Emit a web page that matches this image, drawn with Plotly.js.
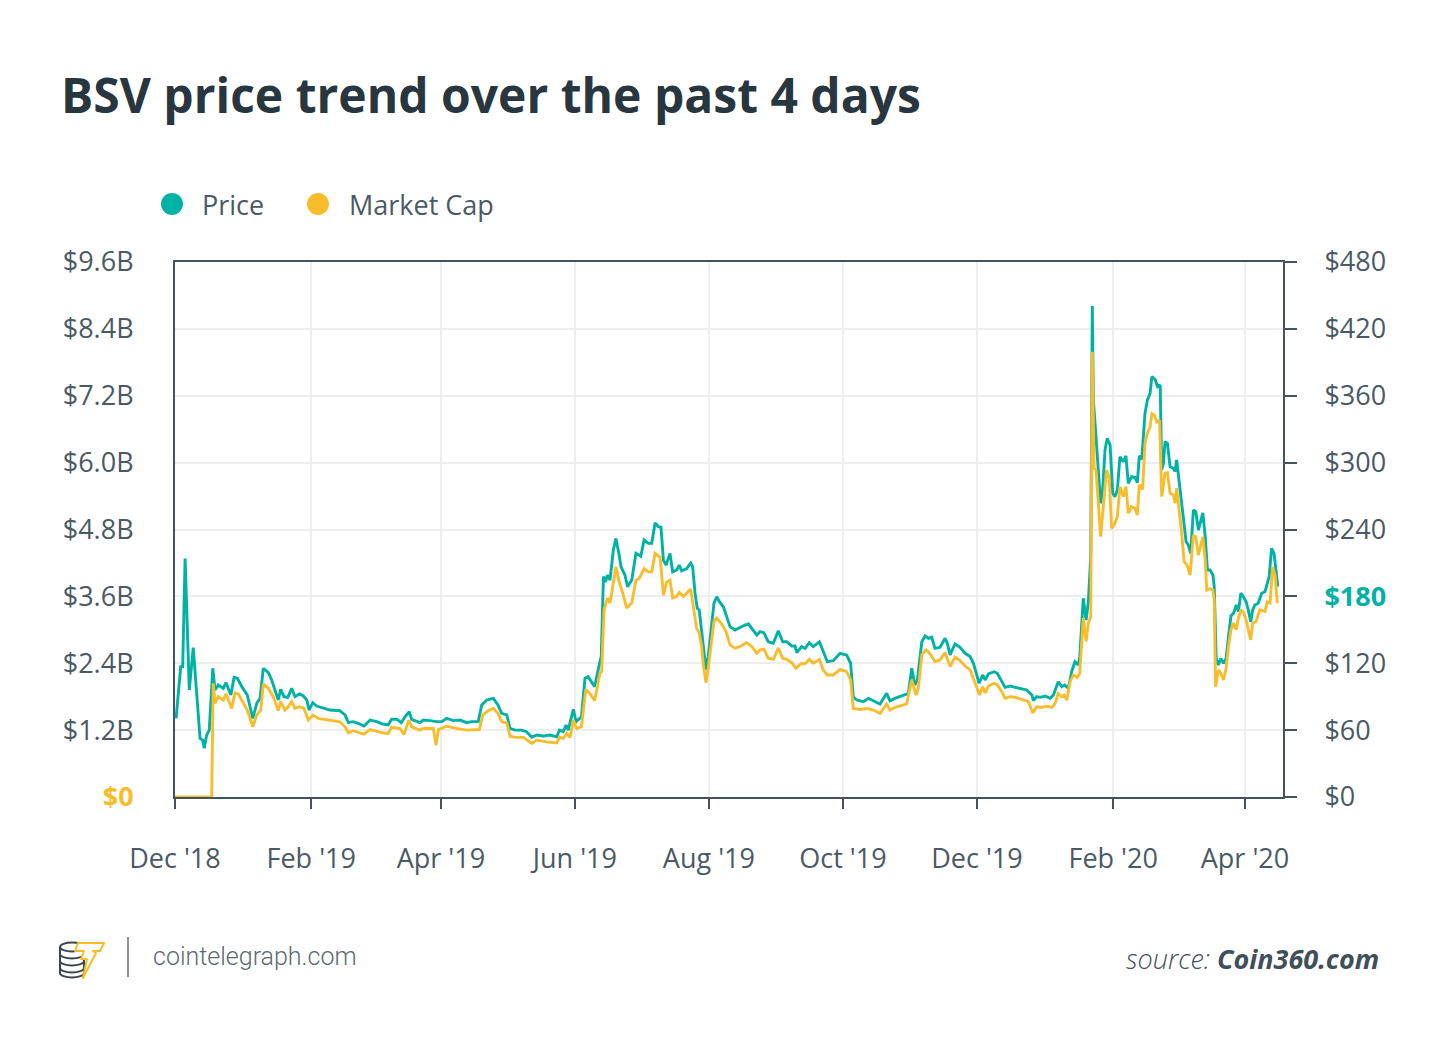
<!DOCTYPE html>
<html>
<head>
<meta charset="utf-8">
<script src="https://cdn.plot.ly/plotly-3.0.1.min.js"></script>
<style>
  html, body { margin:0; padding:0; background:#fff; }
  #wrap { position:relative; width:1450px; height:1038px; }
  #chart { position:absolute; left:0; top:0; width:1450px; height:1038px; }
  #logo { position:absolute; left:56px; top:934px; width:52px; height:48px; }
</style>
</head>
<body>
<div id="wrap">
  <div id="chart"></div>
  <svg id="logo" viewBox="0 0 52 48" xmlns="http://www.w3.org/2000/svg">
    <g fill="#fff" stroke="#3b4650" stroke-width="2">
      <path d="M4 34 v5 a12 4.5 0 0 0 24 0 v-5"/>
      <path d="M4 27 v7 a12 4.5 0 0 0 24 0 v-7"/>
      <path d="M4 20 v7 a12 4.5 0 0 0 24 0 v-7"/>
      <path d="M4 13 v7 a12 4.5 0 0 0 24 0 v-7"/>
      <ellipse cx="16" cy="13" rx="12" ry="4.5"/>
    </g>
    <polygon points="22,9 48,9 44,17 37,17 40,19 27,44 31,25 25,25 28,17 19,17" fill="#fff" stroke="#f5bd2a" stroke-width="2" stroke-linejoin="round"/>
  </svg>
</div>
<script>
// ---- data (x = days after 2018-12-01) ----
const startDate = '2018-12-01';

const priceDay = [0.5,2.6,3.5,4.6,6.5,8.3,11.4,12.6,13.3,14.4,15.6,17.2,18.2,19.7,22,23.2,25.4,26.9,28.4,30.4,
  32.9,35.4,37.2,38.7,40.2,42.5,44,45.5,47,48.1,49.6,51.3,53.1,54.6,56.6,58.4,60,61,62.7,64.5,
  67.5,70.5,75,77.4,78.9,81,83.4,86,88.8,91.8,94.5,97,98.6,101,103,104.7,106.6,107.7,111.5,113,
  116,119,121.4,123.7,126.7,129.7,132.8,135,138,139.6,141.9,144.9,147,148.7,151,152.5,154.8,157.8,160,162.4,
  164.6,167.6,170.7,173.7,175,176.7,178,179,181.3,182.5,185,186.6,188,191,193.4,194,195,196,196.8,198,
  199.5,200.7,202,203,204.8,206,207.9,209.8,211.3,212,213.5,215.4,217,218.5,220,221.2,222.3,223.5,225.3,226.5,
  228.4,229.5,230.6,232.9,234.7,235.6,236.7,237.7,238.6,239.7,240.8,241.7,242.7,244.3,245.3,246.6,247.8,249.6,251,252.6,
  254.9,257,259.4,261,262.5,264.8,266.3,268,270,272.3,274.6,276.6,278.4,280.7,282.2,283,285.2,286.8,288.7,290.5,
  293.3,295,296.9,299.6,302.7,305.7,307.5,308.7,310.3,313.3,315.6,317.8,320.9,323.9,325.4,327.7,330,332.3,333.8,335.3,
  336.8,337.9,339.9,341.4,342.9,344.4,345.9,348.2,350.5,351.5,352.8,355,357.3,359.6,361.9,363.4,364.9,366,367.6,368.7,
  370.2,372.8,374.3,376.3,377.8,380,382.3,385.4,387.7,390,390.7,392.2,393.7,396,398.3,399.8,402,403.6,405,406.6,
  408.1,409.6,411.1,411.8,413.4,414.7,415.7,416.8,417.5,418,419.2,420.3,421.3,422.2,423.3,424.3,425.6,426.8,427.8,428.9,
  430.1,431.6,432.8,433.9,435.4,436.9,438,438.9,440,441.5,442.6,443.8,444.6,446.1,447.2,448.4,449.1,449.9,450.6,451.7,
  452.9,454.4,455.2,455.9,457.1,458.2,459.3,460.2,461.2,462.3,463.5,464.6,465.8,466.9,467.8,468.9,469.9,471.1,472.4,473,
  473.9,474.9,476,477.2,478.4,479.5,480.6,481.8,483,484,485.1,486.3,487.5,488.5,489.6,490.5,491.5,493,494.6,496.1,
  497.1,498,499.1,500.2,501.1,501.9];

const priceUSD = [70.6,117,117,214,96,134,52.6,51,43.7,55.6,60,115.5,96,100.5,97.5,102.6,91.5,107.4,106.5,99,
  91.5,70.6,84,88.5,115.5,111.5,105,96.6,87,96.6,90,89.3,97.5,90,92.4,90.6,87,78,84.6,81.6,
  79.6,78,77.4,73.6,66.7,67.6,66,63.7,69,67.6,65.5,64.6,69.7,69.7,66.7,72,76.5,69.7,66.7,69,
  68.5,67.6,67.6,70.6,68.5,69,66.7,67.6,67.6,82.5,87,88.5,82.5,75,73.6,61.6,60,60,58.6,53.6,
  55.6,54.7,55.6,54,60,58.6,64.6,60,78.7,67.6,72,106.5,108,99,121.4,125.9,197.7,193,199,194.7,
  221.6,232,218.6,206.6,199,188.7,194.7,218.6,217,216,230.6,227.6,227.6,246,242.5,242,212.6,208,218.6,202,
  203.7,208,203,205,210,206.6,182.7,169.3,167.8,149.8,130.4,114,125.9,152.8,173.8,179.7,175.2,170.7,161.8,152.8,
  149.8,152.2,154.3,155.2,151.3,145.3,148.3,147.4,139.3,137.9,149.2,139.3,139.3,135.5,135.5,129.5,134.9,133.4,138.4,134.9,
  139.3,130.4,121.4,122.3,128.9,127.4,120,90,87,85.5,88.5,86.4,83.4,93,86.4,88.5,90,92.1,93,115.5,
  100.5,105,139.3,144.5,142.4,143.5,133.4,134.3,142.4,137.9,127.4,137.3,134.3,128.9,126,120,109.5,102,109.5,105,
  110.4,112.4,111,103.4,98.4,99.6,98.4,96.6,96,91.5,86.4,90,89.4,90.6,88.5,91.5,103.4,99,100.5,97.5,
  112.4,121.4,118.4,125.9,178.3,158.8,175.2,215.6,440.5,356,321.8,299.4,263.5,275.4,311.3,321.8,315.8,272.5,269.4,275.4,
  305.3,300.8,306,281.4,287.4,286.8,282,306,303,344.3,356.2,362.2,377.1,374.7,368.1,369.6,293.4,299.4,318.8,317.3,
  296.3,294.9,291.9,302.4,281.4,263.5,242.5,229,226.1,218.6,257.5,256,239.5,247,255,233.5,203.7,203.7,199.2,188.7,
  124.4,118.4,124.4,120,124.4,143.8,162.4,164.8,172.3,166.3,182.8,179.7,175.2,167.8,157.3,167.8,172.3,173.8,182.8,184.2,
  191.7,197.7,223.1,218.6,203.7,188.7];

const capDay = [0,16.7,17.4,18.2,19.7,22,23.2,25.8,27.3,28.8,30.8,32.9,35.4,37.2,39,40.2,42.5,44.7,47,48.1,
  50,51.5,53.1,54.6,56.6,58.7,60.7,62.7,65.2,69,75,77.4,78.9,81,86,88.8,94.5,97,98.6,102.4,
  104.2,106.4,107.7,111.5,113,117.6,118.8,119.9,123.7,128.2,132.8,138.5,140.1,142.6,144.9,147,148.7,151,152.5,154.8,
  158.6,162.4,164.6,169.2,173.7,175.2,176.7,178.3,179.8,181.3,182.8,185,187,188.8,191,193.4,194.2,195.3,196.2,196.8,
  198,199.5,200.7,202.2,203.8,205.6,207.9,209.8,211.3,213.5,215.4,217,218.5,220.8,222.3,223.8,225.3,226.5,228.4,229.5,
  231.4,234.7,235.9,237.4,238.6,239.7,240.5,241.7,242.7,244.3,245.3,246.6,248.9,250.8,252.6,254.9,257.2,260.2,262.5,264.8,
  266.3,268.1,270,272.3,274.6,276.6,278.4,280.7,282.6,285.2,286.8,288.7,290.5,293.3,295,296.9,299.6,302.7,305.7,307.5,
  308.7,311.8,314.8,317.8,320.9,323.9,325.4,327.7,330,333,335.3,337.3,338.3,339.9,341.8,343.3,345.9,348.2,350.5,352.8,
  355,357.3,359.6,361.9,364.2,366.2,367.6,368.7,370.2,372.8,374.3,376.3,377.8,380,382.3,385.4,388.4,390.4,392.2,394.5,
  396.8,399.1,400.6,402,403.6,404.7,405.9,407.4,408.9,410.7,411.8,413.4,414.7,415.7,416.8,417.5,418.3,419.2,420.3,421.3,
  422.5,424,425.2,426.3,427.8,428.9,430.1,431.6,432.8,433.9,435.4,436.9,438,438.9,440.4,441.5,442.6,443.8,444.6,445.8,
  446.9,448.1,449.1,450.6,451.7,452.9,454.4,455.2,455.9,457.1,458.2,459.3,460.2,461.2,462,463.5,464.6,465.8,466.9,467.8,
  468.9,469.6,471.1,472.4,473,473.6,474.9,476,477.2,478.4,479.5,480.6,481.8,483,484,485.1,486.3,487.5,488.5,489.6,
  490.5,492,493.8,496.1,497.1,498.4,499.6,500.7,501.7];

const capBillion = [0,0,2.04,1.68,1.80,1.74,1.85,1.59,1.87,1.85,1.71,1.56,1.26,1.47,1.56,2.03,1.95,1.80,1.55,1.71,
  1.56,1.62,1.71,1.59,1.62,1.59,1.38,1.47,1.41,1.39,1.35,1.26,1.15,1.19,1.13,1.21,1.15,1.14,1.25,1.23,
  1.12,1.38,1.26,1.20,1.23,1.23,0.93,1.21,1.27,1.23,1.20,1.21,1.47,1.55,1.59,1.50,1.35,1.33,1.09,1.07,
  1.07,0.96,1.02,0.99,0.97,1.08,1.05,1.14,1.07,1.38,1.23,1.26,1.93,1.86,1.73,2.22,2.25,3.36,3.48,3.57,
  3.48,3.89,4.13,3.86,3.66,3.39,3.48,3.89,3.92,4.10,4.04,4.04,4.37,4.30,3.62,3.86,3.89,3.57,3.60,3.67,
  3.60,3.73,3.41,3.03,2.94,2.70,2.37,2.05,2.31,2.82,3.15,3.21,3.10,2.97,2.73,2.67,2.70,2.77,2.70,2.58,
  2.64,2.65,2.49,2.47,2.67,2.49,2.47,2.41,2.31,2.40,2.39,2.47,2.40,2.47,2.28,2.19,2.19,2.29,2.25,2.10,
  1.59,1.57,1.59,1.56,1.50,1.67,1.56,1.61,1.63,1.67,2.10,1.83,1.95,2.55,2.64,2.59,2.43,2.46,2.59,2.34,
  2.51,2.45,2.35,2.28,2.04,1.83,1.98,1.87,1.99,2.04,2.01,1.89,1.77,1.80,1.79,1.75,1.71,1.51,1.62,1.61,
  1.63,1.61,1.68,1.86,1.80,1.83,1.74,2.07,2.19,2.15,2.22,3.21,2.79,3.12,3.24,7.99,5.90,5.87,5.33,4.67,
  5.21,5.87,5.72,4.82,4.91,5.03,5.57,5.39,5.57,5.09,5.21,5.18,5.06,5.60,5.52,6.35,6.53,6.64,6.88,6.85,
  6.73,6.76,5.39,5.81,5.82,5.45,5.42,5.27,5.54,5.15,4.73,4.22,4.19,4.10,3.98,4.70,4.67,4.34,4.55,4.67,
  4.25,3.71,3.74,3.71,3.53,1.98,2.28,2.22,2.10,2.31,2.70,3.00,3.12,3.00,3.21,3.36,3.31,3.18,3.00,2.82,
  3.12,3.15,3.36,3.33,3.50,3.48,4.13,3.98,3.48];

// axis ticks
const capTickVals = [0,1.2,2.4,3.6,4.8,6.0,7.2,8.4,9.6];
const capTickText = ['$0','$1.2B','$2.4B','$3.6B','$4.8B','$6.0B','$7.2B','$8.4B','$9.6B'];
const capTickMarks = [0,1.92,3.84,5.76,7.68,9.6];
const priceTickVals = [0,60,120,180,240,300,360,420,480];
const priceTickText = ['$0','$60','$120','$180','$240','$300','$360','$420','$480'];

// ---- build ----
const TEAL = '#00b1a5';
const YELLOW = '#f8bd2c';
const AXIS = '#44535d';
const TXT = '#4a5a65';
const base = Date.UTC(2018, 11, 1);
function toDate(d) {
  return new Date(base + d * 86400000).toISOString().slice(0, 19).replace('T', ' ');
}

const capText = capTickText.map((t, i) => i === 0 ? '<span style="color:' + YELLOW + '"><b>' + t + '</b></span>' : t);
const priceText = priceTickText.map(t => t === '$180' ? '<span style="color:' + TEAL + '"><b>' + t + '</b></span>' : t);

const traces = [
  { x: priceDay.map(toDate), y: priceUSD, type: 'scatter', mode: 'lines', name: 'Price',
    line: { color: TEAL, width: 2.9 }, yaxis: 'y', xaxis: 'x', hoverinfo: 'skip' },
  { x: capDay.map(toDate), y: capBillion, type: 'scatter', mode: 'lines', name: 'Market Cap',
    line: { color: YELLOW, width: 2.9 }, yaxis: 'y2', xaxis: 'x', hoverinfo: 'skip' }
];

const W = 1450, H = 1038, L = 175, R = 1283, T = 262, B = 797;
const px = v => (v - L) / (R - L);
const py = v => (B - v) / (B - T);

const layout = {
  width: W, height: H,
  margin: { l: L, r: W - R, t: T, b: H - B, pad: 0 },
  paper_bgcolor: '#ffffff', plot_bgcolor: '#ffffff',
  showlegend: false,
  font: { family: 'Open Sans, sans-serif', color: TXT, size: 27 },
  title: {
    text: 'BSV price trend over the past 4 days',
    font: { family: 'Open Sans, sans-serif', size: 48, color: '#28363f', weight: 700 },
    x: 61 / W, xanchor: 'left', xref: 'container',
    y: 1 - 96 / H, yanchor: 'middle', yref: 'container'
  },
  xaxis: {
    type: 'date',
    range: [toDate(0), toDate(504.3)],
    tickmode: 'linear', tick0: startDate, dtick: 'M2', tickformat: "%b '%y",
    ticks: 'outside', ticklen: 10, tickwidth: 2, tickcolor: AXIS,
    showline: true, linecolor: AXIS, linewidth: 2, mirror: true,
    showgrid: true, gridcolor: '#eeeeee', gridwidth: 2,
    zeroline: false, layer: 'below traces',
    tickfont: { size: 27, color: TXT },
    ticklabelstandoff: 27,
    fixedrange: true
  },
  yaxis: {
    range: [0, 480], side: 'right',
    tickmode: 'array', tickvals: priceTickVals, ticktext: priceText,
    ticks: 'outside', ticklen: 12, tickwidth: 2, tickcolor: AXIS,
    showline: true, linecolor: AXIS, linewidth: 2,
    showgrid: true, gridcolor: '#eeeeee', gridwidth: 2,
    zeroline: false, layer: 'below traces',
    tickfont: { size: 27, color: TXT },
    ticklabelstandoff: 22,
    fixedrange: true
  },
  yaxis2: {
    range: [0, 9.6], side: 'left', overlaying: 'y', anchor: 'x',
    tickmode: 'array', tickvals: capTickVals, ticktext: capText,
    ticks: '', showline: true, linecolor: AXIS, linewidth: 2,
    showgrid: false, zeroline: false, layer: 'below traces',
    tickfont: { size: 27, color: TXT },
    ticklabelstandoff: 34,
    fixedrange: true
  },
  yaxis3: {
    range: [0, 9.6], side: 'left', overlaying: 'y', anchor: 'x',
    tickmode: 'array', tickvals: capTickMarks,
    ticks: 'outside', ticklen: 12, tickwidth: 2, tickcolor: AXIS,
    showticklabels: false, showgrid: false, zeroline: false, showline: false,
    fixedrange: true
  },
  shapes: [
    { type: 'circle', xref: 'paper', yref: 'paper', x0: px(161), x1: px(183), y0: py(215), y1: py(193),
      fillcolor: TEAL, line: { width: 0 } },
    { type: 'circle', xref: 'paper', yref: 'paper', x0: px(307), x1: px(329), y0: py(215), y1: py(193),
      fillcolor: YELLOW, line: { width: 0 } },
    { type: 'line', xref: 'paper', yref: 'paper', x0: px(128), x1: px(128), y0: py(937), y1: py(977),
      line: { color: '#8a8f93', width: 2 } }
  ],
  annotations: [
    { text: 'Price', xref: 'paper', yref: 'paper', x: px(200), y: py(204), xanchor: 'left', yanchor: 'middle',
      showarrow: false, font: { size: 27, color: TXT } },
    { text: 'Market Cap', xref: 'paper', yref: 'paper', x: px(347), y: py(204), xanchor: 'left', yanchor: 'middle',
      showarrow: false, font: { size: 27, color: TXT } },
    { text: 'cointelegraph.com', xref: 'paper', yref: 'paper', x: px(151), y: py(956), xanchor: 'left', yanchor: 'middle',
      showarrow: false, font: { family: 'Roboto, sans-serif', size: 25, color: '#5a6a74', weight: 300 } },
    { text: '<span style="font-weight:300"><i>source: </i></span><b><i>Coin360.com</i></b>', xref: 'paper', yref: 'paper', x: px(1381), y: py(958),
      xanchor: 'right', yanchor: 'middle', showarrow: false,
      font: { family: 'Open Sans, sans-serif', size: 27, color: '#3f505b' } }
  ]
};

Plotly.newPlot('chart', traces, layout, { staticPlot: true, displayModeBar: false });
</script>
</body>
</html>
